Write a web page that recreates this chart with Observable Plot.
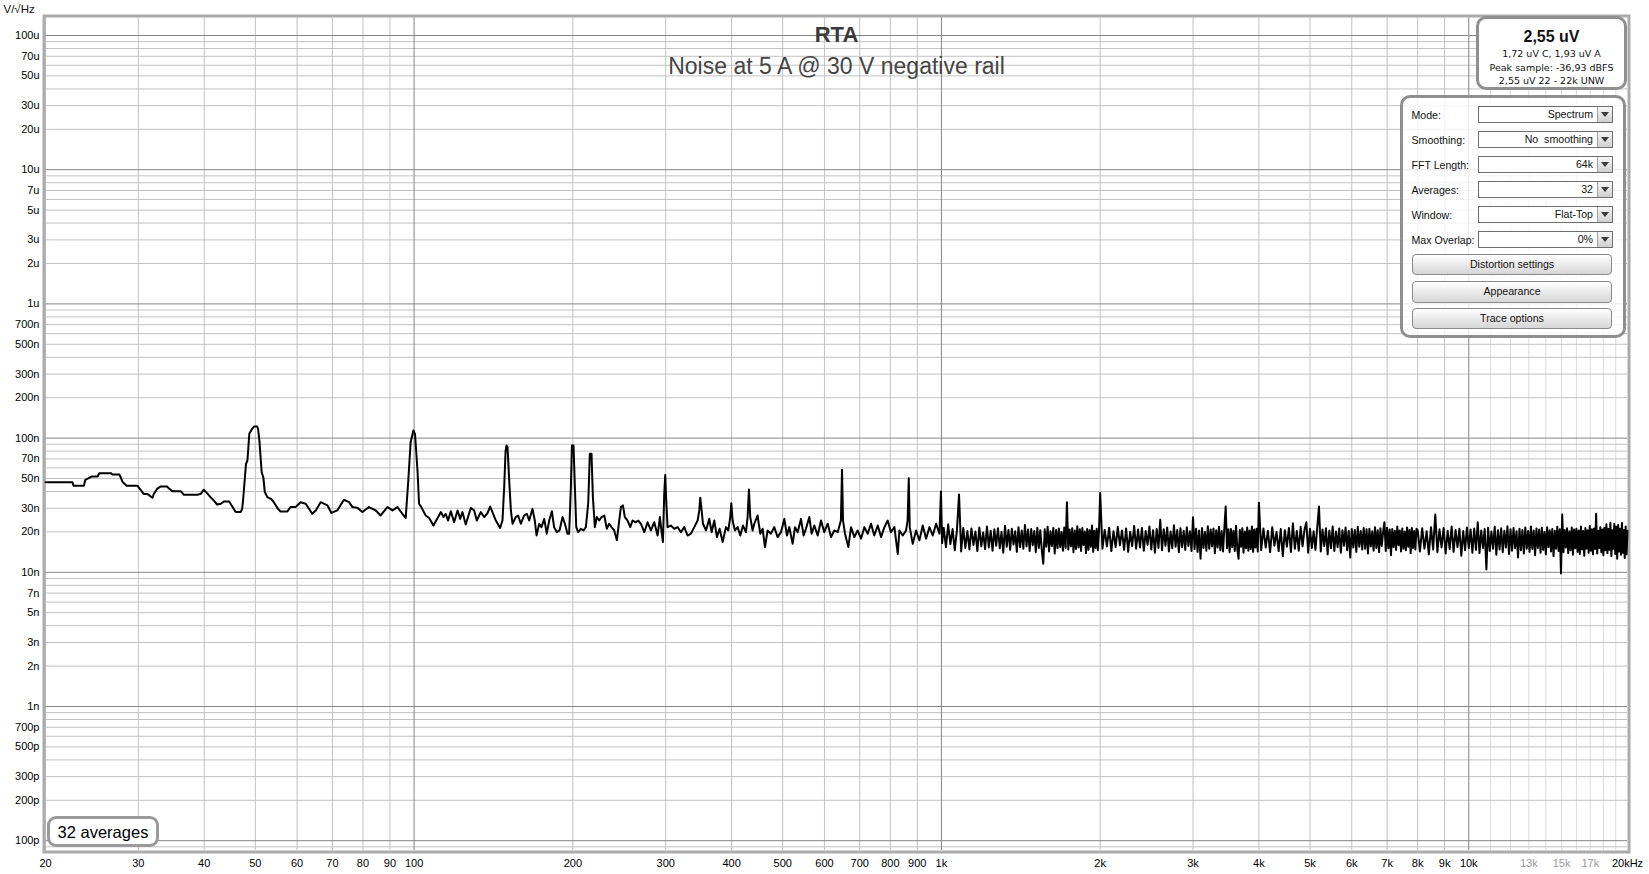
<!DOCTYPE html>
<html><head><meta charset="utf-8">
<script src="https://cdn.jsdelivr.net/npm/d3@7"></script>
<script src="https://cdn.jsdelivr.net/npm/@observablehq/plot@0.6"></script>
<style>
html,body{margin:0;padding:0;background:#fff;overflow:hidden;}
body{font-family:"Liberation Sans",Arial,sans-serif;}
#wrap{position:relative;width:1649px;height:874px;overflow:hidden;}
#wrap svg{position:absolute;left:0;top:0;}
.abs{position:absolute;white-space:pre;}
.rbox{position:absolute;box-sizing:border-box;border:3px solid #8f8f8f;border-radius:10px;background:#fff;}
.lbl{position:absolute;font-size:10.6px;line-height:14px;color:#111;white-space:pre;}
.dd{position:absolute;box-sizing:border-box;width:135px;height:17px;border:1px solid #6e6e6e;background:#fff;font-size:10.6px;line-height:15px;text-align:right;padding-right:19px;color:#111;white-space:pre;}
.dd .arr{position:absolute;right:0;top:0;width:15px;height:15px;box-sizing:border-box;border-left:1px solid #a0a0a0;background:linear-gradient(#f7f7f7,#cfcfcf);}
.dd .arr i{position:absolute;left:3px;top:5px;width:0;height:0;border-left:4px solid transparent;border-right:4px solid transparent;border-top:5px solid #3c3c3c;}
.btn{position:absolute;box-sizing:border-box;left:1412px;width:200px;height:21.5px;border:1px solid #8a8a8a;border-radius:4px;background:linear-gradient(#ffffff,#d6d6d6);font-size:10.6px;line-height:19.5px;text-align:center;color:#111;}
.small{font-family:"DejaVu Sans",sans-serif;font-size:9.5px;line-height:9.5px;text-align:center;color:#111;left:1476px;width:151px;}
</style></head>
<body><div id="wrap"></div>
<script>
// ---------- DATA (noise spectral density, nV/√Hz) ----------
const lowFreq = [20.0,22.5,22.6,23.65,23.8,24.5,25.1,25.3,26.6,26.8,27.6,27.8,28.0,28.5,29.9,30.3,30.7,31.2,31.9,32.1,32.6,33.1,34.0,34.3,34.8,36.1,36.6,38.8,39.4,39.9,40.5,41.1,41.7,42.3,43.0,43.6,44.6,45.2,45.9,46.9,47.2,47.4,48.0,48.3,48.7,49.3,49.7,50.4,50.6,50.9,51.4,51.8,52.1,52.7,53.5,54.2,55.2,55.8,57.5,58.3,59.6,60.9,62.3,64.1,65.1,66.5,68.5,69.7,71.5,73.6,75.3,76.4,78.1,79.8,82.1,84.6,86.4,89.0,91.0,93.0,95.0,96.4,97.5,98.5,99.7,100.4,101.5,102.2,103.2,105.2,106.8,108.8,111.5];
const lowNv = [46.9,46.9,44.1,44.1,48.9,51.8,51.8,54.8,54.8,53.6,53.6,50.6,47.2,44.1,44.1,41.2,38.4,38.4,35.9,38.4,42.1,43.6,43.6,42.1,40.2,40.2,37.8,37.8,38.4,41.2,38.9,36.3,34.3,32.0,32.4,33.7,33.7,30.9,28.1,28.1,29.7,34.7,64.3,68.1,107.6,117.2,122.0,122.0,117.2,94.9,55.7,50.6,39.6,36.3,35.3,33.3,29.7,28.4,28.4,30.6,30.6,33.3,32.4,27.3,28.9,33.3,31.5,27.7,28.9,34.7,33.3,30.6,30.2,28.1,30.6,28.9,26.5,30.6,28.9,30.6,27.3,25.4,48.3,93.2,113.9,107.6,57.4,32.4,30.6,26.5,25.4,22.3,26.5];

const midFreq = [112.4,113.7,114.8,116.0,117.4,119.1,120.9,122.3,123.5,125.3,128.1,130.0,131.5,133.8,135.8,137.8,139.4,140.8,142.9,145.6,147.1,148.2,149.1,149.7,150.4,151.5,152.6,153.7,155.9,157.5,159.4,161.7,163.6,165.3,167.7,169.4,170.7,172.7,174.4,176.5,178.5,180.4,182.5,184.3,186.5,188.7,191.2,193.2,195.4,196.8,198.3,199.2,200.6,201.8,203.0,204.7,207.1,209.6,211.7,213.9,215.4,217.0,218.3,220.2,222.1,224.4,226.7,229.4,232.0,234.4,236.8,239.6,242.4,244.9,246.7,248.9,251.0,254.0,257.0,259.6,263.4,266.1,269.2,273.2,277.2,281.2,285.4,289.6,292.5,294.7,296.4,298.1,299.4,300.7,302.5,306.9,311.4,316.0,320.6,325.3,330.1,334.9,339.9,344.9,347.4,348.9,351.0,353.0,357.7,362.9,366.6,370.9,375.2,379.6,384.7,390.3,394.3,397.7,399.5,401.8,405.9,410.7,415.5,420.4,425.9,429.0,431.5,434.0,438.5,441.7,448.0,453.4,458.1,462.8,468.2,475.1,481.9,489.1,496.3,503.6,509.5,514.7,522.2,527.6,533.8,541.6,547.9,553.5,561.7,567.4,574.1,582.5,591.1,599.5,608.5,617.5,626.5,635.7,644.7,647.9,650.7,656.4,666.0,673.9,683.7,693.5,704.0,714.3,724.8,735.4,745.8,757.2,768.3,779.6,791.0,802.1,814.4,826.4,832.4,844.6,857.0,862.7,867.1,870.8,882.3,895.3,908.4,921.7,935.2,949.0,962.9,977.0,991.4,998.0,1003.0];
const midNv = [28.1,25.8,27.3,24.3,28.5,23.6,28.9,25.0,28.1,22.7,30.2,28.9,24.3,28.1,25.8,27.6,30.9,28.1,24.3,21.4,24.3,43.1,80.0,88.1,85.6,48.0,28.9,23.0,25.8,26.5,23.0,26.5,27.3,24.3,29.7,24.3,18.8,23.0,21.7,25.0,19.4,24.3,28.5,21.7,19.9,20.5,25.8,23.0,19.4,19.4,43.1,88.1,88.1,43.1,21.7,19.9,21.1,20.5,21.7,32.7,76.3,76.3,36.3,21.7,25.8,24.3,25.8,26.5,21.1,23.0,21.7,20.5,17.3,24.3,30.6,31.5,25.8,24.3,21.7,24.3,23.6,24.3,23.0,19.9,23.6,20.5,23.6,18.8,25.8,19.9,16.8,38.4,53.2,34.3,21.7,22.3,21.1,21.7,19.9,21.7,18.8,19.4,21.7,24.3,28.9,35.9,28.9,23.0,20.5,25.0,19.9,24.3,18.3,21.1,16.8,21.7,20.5,25.8,32.7,24.3,20.5,21.7,18.8,22.3,19.9,25.8,41.4,25.8,20.5,23.0,26.5,19.4,21.1,15.4,20.5,19.4,21.7,18.3,19.9,25.0,18.8,21.7,16.3,21.7,19.9,25.0,18.8,21.1,25.8,19.4,22.3,18.8,24.3,19.9,23.0,18.3,20.5,19.9,24.3,58.0,24.3,19.4,15.4,21.7,18.3,20.5,17.8,21.7,19.4,23.0,18.8,22.3,18.3,21.7,24.3,19.9,21.7,13.7,20.5,18.8,20.5,24.3,50.3,21.7,16.3,20.5,17.3,22.3,17.8,21.7,18.8,23.0,19.4,40.0,16.5];

const bandAFreq = [1010,1020,1030,1040,1050,1060,1070,1080,1090,1100,1110,1120,1130,1140,1150,1160,1170,1180,1190,1200,1210,1220,1230,1240,1250,1260,1270,1280,1290,1300,1310,1320,1330,1340,1350,1360,1370,1380,1390,1400,1410,1420,1430,1440,1450,1460,1470,1480,1490,1500,1510,1520,1530,1540,1550,1560,1570,1580,1590,1600,1610,1620,1630,1640,1650,1660,1670,1680,1690,1700,1710,1720,1730,1740,1750,1760,1770,1780,1790,1800,1810,1820,1830,1840,1850,1860,1870,1880,1890,1900,1910,1920,1930,1940,1950,1960,1970,1980,1990];
const bandANv = [21.5,15.4,22.8,16.2,21.0,14.6,20.6,38.0,14.3,21.4,15.2,20.3,14.8,21.2,16.0,20.1,14.4,21.6,15.6,19.8,14.9,21.9,15.3,20.4,14.5,20.9,15.8,21.3,15.1,20.0,14.0,22.2,15.5,20.7,14.7,21.1,16.1,20.2,14.2,21.7,15.4,20.5,15.0,22.5,15.6,20.8,14.4,21.0,15.9,20.3,14.1,21.5,15.2,20.6,14.6,11.6,20.9,15.5,21.8,14.3,20.2,15.7,21.4,13.8,20.7,15.1,21.2,15.4,20.0,14.5,21.6,15.2,33.3,14.8,20.8,15.6,21.3,14.1,20.5,14.9,22.0,15.3,20.9,14.4,21.4,16.0,20.1,13.9,21.0,14.7,20.6,15.5,22.3,14.2,20.4,15.2,21.1,14.6,20.8];

const bandBFreq = [2000,2020,2040,2060,2080,2100,2120,2140,2160,2180,2200,2220,2240,2260,2280,2300,2320,2340,2360,2380,2400,2420,2440,2460,2480,2500,2520,2540,2560,2580,2600,2620,2640,2660,2680,2700,2720,2740,2760,2780,2800,2820,2840,2860,2880,2900,2920,2940,2960,2980,3000,3020,3040,3060,3080,3100,3120,3140,3160,3180,3200,3220,3240,3260,3280,3300,3320,3340,3360,3380,3400,3420,3440,3460,3480,3500,3520,3540,3560,3580,3600,3620,3640,3660,3680,3700,3720,3740,3760,3780,3800,3820,3840,3860,3880,3900,3920,3940,3960,3980];
const bandBNv = [38.9,15.0,20.7,15.6,21.5,14.4,20.2,15.4,21.8,15.9,20.5,14.7,21.2,14.2,20.0,15.7,22.1,15.0,20.8,15.3,21.4,14.5,20.3,16.0,21.9,14.8,20.6,14.0,21.0,15.2,24.6,14.6,20.9,15.8,21.6,14.3,20.1,15.1,22.4,15.5,20.7,14.1,21.3,15.4,20.4,14.7,21.7,15.7,20.2,14.4,25.7,14.9,21.1,14.2,20.5,12.6,21.4,15.2,20.0,14.5,22.0,15.0,20.8,15.6,21.2,13.9,20.6,15.3,21.8,14.6,20.3,14.3,21.5,30.9,15.1,20.9,14.1,21.0,15.4,20.4,14.4,22.2,14.8,12.6,20.7,15.5,21.3,14.0,20.1,15.1,21.6,14.5,20.5,14.9,21.9,14.2,20.8,15.3,21.1,14.3];

const bandCFreq = [4000,4040,4080,4120,4160,4200,4240,4280,4320,4360,4400,4440,4480,4520,4560,4600,4640,4680,4720,4760,4800,4840,4880,4920,4960,5000,5040,5080,5120,5160,5200,5240,5280,5320,5360,5400,5440,5480,5520,5560,5600,5640,5680,5720,5760,5800,5840,5880,5920,5960,6000,6040,6080,6120,6160,6200,6240,6280,6320,6360,6400,6440,6480,6520,6560,6600,6640,6680,6720,6760,6800,6840,6880,6920,6960,7000,7040,7080,7120,7160,7200,7240,7280,7320,7360,7400,7440,7480,7520,7560,7600,7640,7680,7720,7760,7800,7840,7880,7920,7960];
const bandCNv = [33.0,14.6,21.2,15.3,20.4,14.1,21.7,15.8,20.0,14.4,21.0,13.2,20.6,15.5,21.4,14.2,23.2,15.0,20.3,14.5,21.8,15.6,20.7,23.6,14.0,21.1,15.2,20.2,14.7,21.5,30.9,14.3,20.8,15.7,21.3,13.6,20.5,15.1,21.9,14.4,20.1,15.4,21.2,14.0,20.6,15.8,21.6,14.6,20.4,12.9,21.0,15.3,20.7,14.2,21.8,15.5,20.3,14.8,21.4,15.0,20.9,13.8,21.1,15.6,20.2,14.5,21.7,15.2,20.6,14.1,21.3,15.7,20.0,23.6,14.4,21.5,15.1,20.8,13.4,21.0,15.4,20.4,14.7,21.9,15.9,20.5,14.3,21.2,15.0,20.1,14.6,21.6,15.5,20.7,13.9,21.4,15.2,20.3,14.8,21.1];

const bandDFreq = [8000,8080,8160,8240,8320,8400,8480,8560,8640,8720,8800,8880,8960,9040,9120,9200,9280,9360,9440,9520,9600,9680,9760,9840,9920,10000,10080,10160,10240,10320,10400,10480,10560,10640,10720,10800,10880,10960,11040,11120,11200,11280,11360,11440,11520,11600,11680,11760,11840,11920,12000,12080,12160,12240,12320,12400,12480,12560,12640,12720,12800,12880,12960,13040,13120,13200,13280,13360,13440,13520,13600,13680,13760,13840,13920,14000,14080,14160,14240,14320,14400,14480,14560,14640,14720,14800,14880,14960,15040,15120,15200,15280,15360,15440,15520,15600,15680,15760,15840,15920,16000,16080,16160,16240,16320,16400,16480,16560,16640,16720,16800,16880,16960,17040,17120,17200,17280,17360,17440,17520,17600,17680,17760,17840,17920,18000,18080,18160,18240,18320,18400,18480,18560,18640,18720,18800,18880,18960,19040,19120,19200,19280,19360,19440,19520,19600,19680,19760,19840,19920,20000];
const bandDNv = [20.6,14.3,21.3,15.0,20.2,13.6,21.7,14.8,27.0,14.1,20.9,15.3,21.4,13.8,20.4,14.9,21.9,14.2,20.7,15.4,21.1,13.3,20.3,14.6,21.6,15.1,20.8,14.0,21.2,14.7,23.6,13.9,20.5,15.2,21.0,10.5,21.5,14.4,20.1,15.0,21.8,13.5,20.6,14.8,21.3,14.1,20.4,15.3,22.0,13.7,20.9,14.5,21.4,15.1,20.2,12.9,21.1,14.6,20.7,13.8,21.6,15.0,20.3,14.2,21.9,14.9,20.5,13.4,21.2,15.2,20.8,14.0,21.5,14.7,20.0,13.6,21.7,15.4,20.6,14.3,21.0,13.2,20.4,15.0,21.8,14.4,20.9,9.8,27.0,14.1,20.7,15.3,21.3,13.9,20.2,14.6,21.6,13.5,20.8,15.1,21.1,14.2,20.5,13.7,21.9,14.8,20.3,13.3,21.4,15.0,20.6,14.0,22.1,14.5,20.9,13.6,21.2,14.9,27.3,13.8,20.4,15.2,21.7,14.1,20.8,13.4,21.5,14.6,22.8,13.9,21.0,14.7,23.4,13.2,20.6,15.0,23.0,13.7,21.8,12.6,22.5,14.3,21.1,13.5,23.3,14.0,20.7,12.8,21.9,13.6,20.4];

// axis ticks
const xTickValues = [20,30,40,50,60,70,80,90,100,200,300,400,500,600,700,800,900,1000,2000,3000,4000,5000,6000,7000,8000,9000,10000,20000];
const xTickLabels = ["20","30","40","50","60","70","80","90","100","200","300","400","500","600","700","800","900","1k","2k","3k","4k","5k","6k","7k","8k","9k","10k","20kHz"];
const xFaintTickValues = [13000,15000,17000];
const xFaintTickLabels = ["13k","15k","17k"];
const yTickValues = [1e5,7e4,5e4,3e4,2e4,1e4,7e3,5e3,3e3,2e3,1e3,700,500,300,200,100,70,50,30,20,10,7,5,3,2,1,0.7,0.5,0.3,0.2,0.1];
const yTickLabels = ["100u","70u","50u","30u","20u","10u","7u","5u","3u","2u","1u","700n","500n","300n","200n","100n","70n","50n","30n","20n","10n","7n","5n","3n","2n","1n","700p","500p","300p","200p","100p"];

const titleText = "RTA";
const subtitleText = "Noise at 5 A @ 30 V negative rail";
const unitText = "V/\u221AHz";

// ---------- build ----------
const rows = (fs, vs) => fs.map((f, i) => ({f, v: vs[i]}));
const trace = [
  ...rows(lowFreq, lowNv), ...rows(midFreq, midNv),
  ...rows(bandAFreq, bandANv), ...rows(bandBFreq, bandBNv),
  ...rows(bandCFreq, bandCNv), ...rows(bandDFreq, bandDNv)
];

const yDomain = [0.0845, 136200];
const xMajor = [100, 1000, 10000];
const xMinor = [], xFaint = [];
for (const d of [10, 100, 1000]) for (let k = 2; k <= 9; k++) if (k * d >= 20) xMinor.push(k * d);
for (let k = 11; k <= 19; k++) xFaint.push(k * 1000);
const yMajor = [0.1, 1, 10, 100, 1000, 10000, 100000];
const yMinor = [];
for (const d of [0.01, 0.1, 1, 10, 100, 1000, 10000]) for (let k = 2; k <= 9; k++) {
  const v = +(k * d).toPrecision(3);
  if (v > yDomain[0] && v < 100000) yMinor.push(v);
}

const chart = Plot.plot({
  width: 1649, height: 874,
  marginLeft: 45, marginRight: 22, marginTop: 17, marginBottom: 24,
  style: {fontFamily: '"Liberation Sans", Arial, sans-serif', fontSize: "11px", background: "transparent", color: "#000", maxWidth: "none"},
  x: {type: "log", domain: [20, 20000], label: null, axis: null},
  y: {type: "log", domain: yDomain, label: null, axis: null},
  marks: [
    Plot.ruleX(xFaint, {stroke: "#dcdcdc"}),
    Plot.ruleX(xMinor, {stroke: "#c2c2c2"}),
    Plot.ruleY(yMinor, {stroke: "#c2c2c2"}),
    Plot.ruleX(xMajor, {stroke: "#858585"}),
    Plot.ruleY(yMajor, {stroke: "#858585"}),
    Plot.frame({stroke: "#ababab", strokeWidth: 3, inset: -1.5}),
    Plot.text([titleText], {text: d => d, frameAnchor: "top", dy: 8.5, fontSize: 22, fontWeight: "bold", fill: "#3a3a3a"}),
    Plot.text([subtitleText], {text: d => d, frameAnchor: "top", dy: 40.5, fontSize: 23, fill: "#454545"}),
    Plot.line(trace, {x: "f", y: "v", stroke: "#000", strokeWidth: 2, strokeLinejoin: "round"}),
    // tick labels (explicit, every decade subdivision labelled as in the reference)
    Plot.text(yTickValues, {y: d => d, text: (d, i) => yTickLabels[i], frameAnchor: "left", dx: -6, textAnchor: "end", fontSize: 11, fill: "#000"}),
    Plot.text(xTickValues, {x: d => d, text: (d, i) => xTickLabels[i], frameAnchor: "bottom", lineAnchor: "top", dy: 8.5, fontSize: 11, fill: "#000"}),
    Plot.text(xFaintTickValues, {x: d => d, text: (d, i) => xFaintTickLabels[i], frameAnchor: "bottom", lineAnchor: "top", dy: 8.5, fontSize: 11, fill: "#9a9a9a"}),
    Plot.text([unitText], {text: d => d, frameAnchor: "top-left", dx: -42, dy: -13, textAnchor: "start", fontSize: 11.5, fill: "#111"})
  ]
});

const wrap = document.getElementById("wrap");
wrap.appendChild(chart);

// ---------- overlay widgets (RTA window UI) ----------
const levelLines = ["1,72 uV C, 1,93 uV A", "Peak sample: -36,93 dBFS", "2,55 uV 22 - 22k UNW"];
const levelMain = "2,55 uV";
const controlLabels = ["Mode:", "Smoothing:", "FFT Length:", "Averages:", "Window:", "Max Overlap:"];
const controlValues = ["Spectrum", "No  smoothing", "64k", "32", "Flat-Top", "0%"];
const buttonLabels = ["Distortion settings", "Appearance", "Trace options"];
const averagesText = "32 averages";

function el(cls, style, text) {
  const d = document.createElement("div");
  d.className = cls;
  d.setAttribute("style", style);
  if (text != null) d.textContent = text;
  wrap.appendChild(d);
  return d;
}
el("rbox", "left:1476px;top:16px;width:151px;height:74px;");
el("abs", "left:1476px;width:151px;top:28.7px;font-size:16px;line-height:16px;font-weight:bold;text-align:center;color:#111;", levelMain);
[48.7, 63, 76.3].forEach((t, i) => el("abs small", `top:${t}px;`, levelLines[i]));

el("rbox", "left:1400px;top:94.5px;width:226px;height:243px;background:rgba(255,255,255,0.82);");
controlLabels.forEach((lab, i) => {
  const cy = 114.5 + 25 * i;
  el("lbl", `left:1411.5px;top:${cy - 7}px;`, lab);
  const dd = el("dd", `left:1478px;top:${cy - 8.5}px;`, controlValues[i]);
  const a = document.createElement("div"); a.className = "arr";
  a.appendChild(document.createElement("i"));
  dd.appendChild(a);
});
[253.5, 281, 307.5].forEach((t, i) => el("btn", `top:${t}px;`, buttonLabels[i]));

el("rbox", "left:47px;top:816px;width:112px;height:31px;border-color:#9a9a9a;border-radius:9px;");
el("abs", "left:47px;width:112px;top:824px;font-size:16.5px;line-height:16.5px;text-align:center;color:#000;", averagesText);
</script>
</body></html>
